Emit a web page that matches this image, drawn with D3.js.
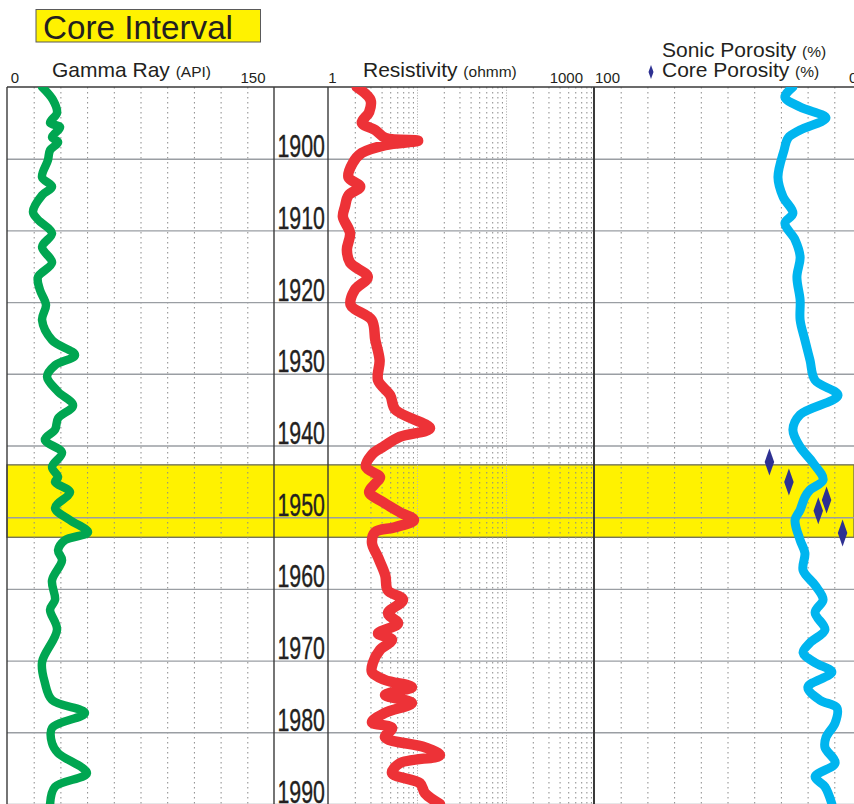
<!DOCTYPE html>
<html>
<head>
<meta charset="utf-8">
<script src="https://cdn.jsdelivr.net/npm/d3@7"></script>
<style>
  body { margin: 0; background: #fff; }
  svg { display: block; }
  text { font-family: "Liberation Sans", Arial, sans-serif; fill: #231f20; }
</style>
</head>
<body>
<svg id="chart" width="854" height="804"></svg>
<script>
// ---- Well log data (depth, value) ----
const depthTicks = d3.range(1900, 2000, 10);
const gammaTicks = d3.range(15, 150, 15);
const porosityTicks = d3.range(10, 100, 10);
const coreInterval = [1942.7, 1952.8];

const gammaRay = [
  [1890.0, 19.7], [1891.8, 25.8], [1893.6, 28.1], [1895.0, 24.2], [1895.6, 29.8],
  [1897.0, 25.3], [1897.7, 28.7], [1898.8, 24.2], [1900.2, 23.0], [1902.6, 19.7],
  [1903.9, 25.3], [1905.1, 19.7], [1907.4, 14.6], [1908.5, 17.4], [1910.4, 25.3],
  [1912.3, 19.7], [1914.5, 25.3], [1916.5, 17.4], [1918.3, 18.5], [1920.4, 21.9],
  [1922.5, 19.7], [1925.3, 25.3], [1927.4, 38.2], [1928.8, 27.0], [1930.4, 22.5],
  [1932.5, 28.7], [1934.4, 37.1], [1936.2, 28.7], [1937.8, 27.0], [1939.2, 21.3],
  [1941.0, 30.9], [1943.0, 25.3], [1944.4, 28.7], [1945.1, 27.0], [1946.5, 35.4],
  [1948.7, 27.0], [1950.4, 35.4], [1952.1, 45.5], [1953.2, 32.6], [1954.6, 28.7],
  [1956.0, 30.9], [1958.8, 25.3], [1961.5, 27.0], [1962.9, 24.2], [1965.7, 28.1],
  [1970.2, 19.7], [1973.1, 21.3], [1975.5, 25.3], [1977.3, 43.8], [1979.4, 25.3],
  [1981.5, 25.3], [1982.9, 28.7], [1985.7, 44.9], [1987.6, 27.0], [1990.0, 24.2]
];

const resistivity = [
  [1890.0, 2.1], [1891.8, 3.0], [1893.5, 2.9], [1895.0, 2.4], [1896.0, 3.4],
  [1897.1, 4.4], [1897.5, 10.3], [1898.1, 4.4], [1899.2, 2.4], [1900.6, 1.9],
  [1902.6, 1.7], [1903.9, 2.3], [1905.1, 1.7], [1906.7, 1.55], [1908.1, 1.47],
  [1910.4, 1.77], [1912.7, 1.63], [1914.5, 1.77], [1916.5, 2.8], [1918.3, 2.0],
  [1920.4, 1.8], [1922.5, 3.1], [1925.3, 3.4], [1928.1, 3.8], [1930.9, 3.65],
  [1933.0, 5.0], [1935.0, 5.7], [1937.6, 14.0], [1938.8, 6.4], [1940.2, 4.15],
  [1941.3, 3.1], [1943.0, 2.67], [1944.4, 3.84], [1945.2, 3.46], [1946.5, 2.9],
  [1947.9, 4.15], [1949.3, 6.4], [1950.4, 9.25], [1951.4, 5.66], [1952.1, 3.37],
  [1953.6, 3.12], [1955.6, 3.65], [1958.1, 4.4], [1960.2, 4.7], [1961.5, 6.96],
  [1963.4, 4.72], [1964.8, 6.12], [1966.2, 3.65], [1967.1, 5.24], [1968.5, 3.84],
  [1970.3, 3.2], [1971.6, 3.12], [1972.7, 4.37], [1973.7, 8.78], [1974.8, 4.37],
  [1975.9, 8.78], [1977.3, 4.37], [1978.6, 3.12], [1979.4, 5.24], [1980.7, 4.37],
  [1982.1, 12.3], [1983.2, 18.1], [1984.3, 6.44], [1985.7, 5.24], [1987.1, 10.8],
  [1988.5, 12.3], [1990.0, 18.1]
];

const sonicPorosity = [
  [1890.0, 25.5], [1891.4, 28.5], [1892.8, 22.8], [1894.3, 13.1], [1896.0, 22.8],
  [1897.1, 27.3], [1898.8, 28.8], [1902.6, 31.1], [1905.3, 29.2], [1907.6, 25.5],
  [1909.0, 28.5], [1911.3, 24.7], [1913.7, 22.8], [1916.5, 24.0], [1919.7, 22.8],
  [1922.5, 22.8], [1925.3, 21.0], [1928.1, 19.1], [1930.9, 17.2], [1933.0, 8.6],
  [1935.7, 22.8], [1937.8, 25.5], [1940.2, 22.8], [1942.4, 18.0], [1944.8, 14.2],
  [1946.2, 19.1], [1947.2, 21.0], [1949.0, 22.8], [1950.4, 24.7], [1953.2, 22.8],
  [1955.0, 21.0], [1957.4, 21.7], [1959.5, 17.2], [1961.5, 14.2], [1963.3, 17.2],
  [1965.7, 13.5], [1967.5, 19.1], [1968.9, 21.7], [1970.3, 17.2], [1971.6, 10.9],
  [1973.7, 19.9], [1975.5, 15.4], [1976.6, 9.0], [1978.7, 9.7], [1980.7, 13.1],
  [1982.1, 13.5], [1984.3, 9.7], [1986.2, 17.2], [1987.6, 13.5], [1990.0, 10.9]
];

const corePorosity = [
  [1942.3, 34.3], [1945.1, 27.0], [1947.6, 12.9], [1949.1, 16.0], [1952.2, 6.9]
];

// ---- Layout ----
const W = 854, H = 804, TOP = 87;
const svg = d3.select("#chart");

const y = d3.scaleLinear().domain([1890, 1990]).range([TOP, H]);
const xGamma = d3.scaleLinear().domain([0, 150]).range([7, 274]);
const xRes = d3.scaleLog().domain([1, 1000]).range([328, 595]);
const xPor = d3.scaleLinear().domain([100, 0]).range([594, 861]);

const colors = {
  gamma: "#00a651", res: "#ed3237", sonic: "#00b5ef",
  core: "#2e3192", band: "#fff200", grid: "#8a8a8a", depthLine: "#9a9ea3", border: "#3a3a3a"
};

// Clip paths for each track
const defs = svg.append("defs");
[["clipGamma", 7, 274], ["clipRes", 328, 595], ["clipPor", 594, W]].forEach(([id, x0, x1]) => {
  defs.append("clipPath").attr("id", id)
    .append("rect").attr("x", x0).attr("y", TOP).attr("width", x1 - x0).attr("height", H - TOP);
});

// Core interval band
svg.append("rect")
  .attr("x", 7).attr("y", y(coreInterval[0]))
  .attr("width", W - 7).attr("height", y(coreInterval[1]) - y(coreInterval[0]))
  .attr("fill", colors.band).attr("stroke", "#6a6a55").attr("stroke-width", 1.3);

// Vertical dotted grids drawn with axes
function vGrid(scale, values) {
  const g = svg.append("g").attr("transform", `translate(0,${TOP})`)
    .call(d3.axisBottom(scale).tickValues(values).tickSize(H - TOP).tickFormat(""));
  g.select(".domain").remove();
  g.selectAll(".tick line")
    .attr("stroke", colors.grid).attr("stroke-width", 1)
    .attr("stroke-dasharray", "1.5,3.5");
  return g;
}
vGrid(xGamma, gammaTicks);
const resGrid = vGrid(xRes, xRes.ticks().filter(v => v > 1 && v < 1000));
resGrid.selectAll(".tick line")
  .filter(d => [10, 100].includes(d))
  .attr("stroke", "#b5b5b5").attr("stroke-dasharray", "1.2,1.5");
vGrid(xPor, porosityTicks);

// Horizontal depth lines
const hg = svg.append("g").attr("transform", "translate(7,0)")
  .call(d3.axisRight(y).tickValues(depthTicks).tickSize(W - 7).tickFormat(""));
hg.select(".domain").remove();
hg.selectAll(".tick line").attr("stroke", colors.depthLine).attr("stroke-width", 1.4);

// Track borders
svg.append("line").attr("x1", 7).attr("x2", W).attr("y1", TOP).attr("y2", TOP)
  .attr("stroke", colors.border).attr("stroke-width", 1.4);
[7, 274, 328, 594].forEach(x => {
  svg.append("line").attr("x1", x).attr("x2", x).attr("y1", TOP).attr("y2", H)
    .attr("stroke", colors.border).attr("stroke-width", x === 594 ? 2 : 1.4);
});

// Depth labels (condensed)
svg.append("g").selectAll("text").data(depthTicks).join("text")
  .attr("x", 325).attr("y", d => y(d) - 1.5)
  .attr("text-anchor", "end")
  .attr("font-size", 31.5)
  .attr("stroke", "#231f20").attr("stroke-width", 0.4)
  .attr("textLength", 47.5).attr("lengthAdjust", "spacingAndGlyphs")
  .text(d => d);

// Log curves
function curve(data, xs, clip, color, width) {
  svg.append("path")
    .datum(data)
    .attr("clip-path", `url(#${clip})`)
    .attr("fill", "none")
    .attr("stroke", color)
    .attr("stroke-width", width)
    .attr("stroke-linejoin", "round")
    .attr("stroke-linecap", "round")
    .attr("d", d3.line().x(d => xs(d[1])).y(d => y(d[0])).curve(d3.curveCatmullRom.alpha(0.5)));
}
curve(gammaRay, xGamma, "clipGamma", colors.gamma, 8.5);
curve(resistivity, xRes, "clipRes", colors.res, 10.5);
curve(sonicPorosity, xPor, "clipPor", colors.sonic, 9);

// Core porosity diamonds
const diamond = (w, h) => `M0,${-h / 2}L${w / 2},0L0,${h / 2}L${-w / 2},0Z`;
svg.append("g").selectAll("path").data(corePorosity).join("path")
  .attr("transform", d => `translate(${xPor(d[1])},${y(d[0])})`)
  .attr("d", diamond(9.5, 27))
  .attr("fill", colors.core);

// ---- Headers ----
const hdr = svg.append("g");
function header(x, yb, main, unit) {
  const t = hdr.append("text").attr("x", x).attr("y", yb).attr("font-size", 21);
  t.append("tspan").text(main + " ");
  t.append("tspan").attr("font-size", 15.5).text(unit);
}
function scaleLabel(x, txt, anchor) {
  hdr.append("text").attr("x", x).attr("y", 83).attr("font-size", 15)
    .attr("text-anchor", anchor).text(txt);
}
header(52, 77, "Gamma Ray", "(API)");
scaleLabel(xGamma(0) + 8, "0", "middle");
scaleLabel(xGamma(150) - 21, "150", "middle");

header(363, 77, "Resistivity", "(ohmm)");
scaleLabel(xRes(1) + 4.5, "1", "middle");
scaleLabel(xRes(1000) - 12, "1000", "end");

header(662, 57, "Sonic Porosity", "(%)");
header(662, 77, "Core Porosity", "(%)");
hdr.append("path").attr("transform", "translate(651,72)")
  .attr("d", diamond(5, 14)).attr("fill", colors.core);
scaleLabel(xPor(100) + 1, "100", "start");
scaleLabel(849, "0", "start");

// Core interval legend box
svg.append("rect").attr("x", 36).attr("y", 9.5).attr("width", 224.5).attr("height", 32.5)
  .attr("fill", colors.band).attr("stroke", "#5a5a5a").attr("stroke-width", 1);
svg.append("text").attr("x", 43).attr("y", 38.5)
  .attr("font-family", "Lato, 'Open Sans', sans-serif")
  .attr("font-size", 34)
  .attr("textLength", 190).attr("lengthAdjust", "spacingAndGlyphs")
  .text("Core Interval");
</script>
</body>
</html>
